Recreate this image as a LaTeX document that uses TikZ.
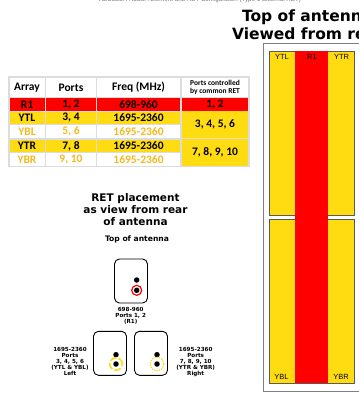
\documentclass[tikz,border=0pt]{standalone}
\usepackage{fontspec}
\setmainfont{DejaVu Sans}
\newfontfamily\cellfont{Carlito}
\newfontfamily\labelfont{Liberation Sans}
\definecolor{retyellow}{HTML}{FFDB12}
\definecolor{textyellow}{HTML}{F5B91E}
\definecolor{retred}{HTML}{FF0000}
\definecolor{cellgray}{HTML}{DCDCDC}
\tikzset{
  cellbox/.style={fill=#1, inner sep=0pt, font=\cellfont\bfseries\fontsize{11.5}{12}\selectfont},
  colarray/.style={minimum width=35pt},
  colports/.style={minimum width=50pt},
  colfreq/.style={minimum width=83pt},
  colret/.style={minimum width=66pt},
  shortrow/.style={minimum height=12.6pt},
  titletext/.style={anchor=west, font=\bfseries\fontsize{15.5}{17}\selectfont},
  headtext/.style={align=center, font=\bfseries\fontsize{10.5}{12}\selectfont},
  smalltext/.style={align=center, font=\bfseries\fontsize{5.6}{6}\selectfont},
  retbox/.style={draw=black, line width=0.9pt, rounded corners=5pt, minimum width=33pt, minimum height=44pt},
  retdot/.style={circle, fill=black, inner sep=0pt, minimum size=5.5pt},
  panelbox/.style={draw=black!65, line width=0.8pt, fill=retyellow, inner sep=0pt, minimum width=85pt},
  paneltext/.style={font=\labelfont\fontsize{7.5}{8}\selectfont}
}
\begin{document}
\begin{tikzpicture}[x=1pt, y=-1pt]
\useasboundingbox (0,0) rectangle (359,394);

% caption cut by the top edge
\node[text=black!55, font=\labelfont\fontsize{6.2}{7}\selectfont] (caption) at (200,-0.5) {ADS8S8A-R8B8A Element and RET Configuration (Type 1 External RET)};

% Table
\node[fill=cellgray, minimum width=242pt, minimum height=91.5pt, inner sep=0pt] (tbl_back) at (128.5,121.5) {};

\node[cellbox=white, colarray, minimum height=19.5pt] (hd_array) at (27,87.5) {Array};
\node[cellbox=white, colports, minimum height=19.5pt] (hd_ports) at (71,87.5) {Ports};
\node[cellbox=white, colfreq, minimum height=19.5pt] (hd_freq) at (138.5,87.5) {Freq (MHz)};
\node[cellbox=white, colret, minimum height=19.5pt, align=center, font=\cellfont\bfseries\fontsize{7.5}{8}\selectfont] (hd_ret) at (215,87.5) {Ports controlled\\by common RET};

\node[cellbox=retred, colarray, shortrow] (r1_array) at (27,104.7) {R1};
\node[cellbox=retred, colports, shortrow] (r1_ports) at (71,104.7) {1, 2};
\node[cellbox=retred, colfreq, shortrow] (r1_freq) at (138.5,104.7) {698-960};
\node[cellbox=retred, colret, shortrow] (r1_ret) at (215,104.7) {1, 2};

\node[cellbox=retyellow, colarray, shortrow] (ytl_array) at (27,118) {YTL};
\node[cellbox=retyellow, colports, shortrow] (ytl_ports) at (71,118) {3, 4};
\node[cellbox=retyellow, colfreq, shortrow] (ytl_freq) at (138.5,118) {1695-2360};

\node[cellbox=white, text=textyellow, colarray, shortrow] (ybl_array) at (27,131.5) {YBL};
\node[cellbox=white, text=textyellow, colports, shortrow] (ybl_ports) at (71,131.5) {5, 6};
\node[cellbox=white, text=textyellow, colfreq, shortrow] (ybl_freq) at (138.5,131.5) {1695-2360};

\node[cellbox=retyellow, colret, minimum height=26.5pt] (left_ret) at (215,124.7) {3, 4, 5, 6};

\node[cellbox=retyellow, colarray, shortrow] (ytr_array) at (27,146) {YTR};
\node[cellbox=retyellow, colports, shortrow] (ytr_ports) at (71,146) {7, 8};
\node[cellbox=retyellow, colfreq, shortrow] (ytr_freq) at (138.5,146) {1695-2360};

\node[cellbox=white, text=textyellow, colarray, shortrow] (ybr_array) at (27,159.3) {YBR};
\node[cellbox=white, text=textyellow, colports, shortrow] (ybr_ports) at (71,159.3) {9, 10};
\node[cellbox=white, text=textyellow, colfreq, shortrow] (ybr_freq) at (138.5,159.3) {1695-2360};

\node[cellbox=retyellow, colret, minimum height=26.5pt] (right_ret) at (215,152.7) {7, 8, 9, 10};

% RET placement
\node[headtext] (ret_title) at (135.5,209.5) {RET placement\\as view from rear\\of antenna};
\node[smalltext, font=\bfseries\fontsize{7.6}{8}\selectfont] (ret_top) at (137,239) {Top of antenna};

\node[retbox] (box_r1) at (131,281) {};
\node[retdot] (r1_upper) at (136.7,280) {};
\node[retdot] (r1_lower) at (136.7,290.3) {};
\node[circle, draw=retred, line width=1.2pt, minimum size=10pt, inner sep=0pt] (r1_ring) at (r1_lower) {};
\node[smalltext] (r1_text) at (130.7,315.7) {698-960\\Ports 1, 2\\(R1)};

\node[retbox] (box_left) at (110,353.3) {};
\node[retdot] (left_upper) at (116,354.7) {};
\node[retdot] (left_lower) at (116,364) {};
\node[circle, draw=retyellow, line width=1.6pt, dash pattern=on 7pt off 2.2pt, minimum size=12.5pt, inner sep=0pt] (left_ring) at (left_lower) {};
\node[smalltext] (left_text) at (70,361.7) {1695-2360\\Ports\\3, 4, 5, 6\\(YTL \& YBL)\\Left};

\node[retbox] (box_right) at (151,353.3) {};
\node[retdot] (right_upper) at (157,354.7) {};
\node[retdot] (right_lower) at (157,364) {};
\node[circle, draw=retyellow, line width=1.2pt, dash pattern=on 1.2pt off 1.2pt, minimum size=13.5pt, inner sep=0pt] (right_ring) at (right_lower) {};
\node[smalltext] (right_text) at (195.7,362) {1695-2360\\Ports\\7, 8, 9, 10\\(YTR \& YBR)\\Right};

% Top of antenna (Right)
\node[titletext] (title_top) at (238.5,17) {Top of antenna};
\node[titletext] (title_rear) at (228.5,34) {Viewed from rear};

\node[draw=black!50, line width=0.8pt, minimum width=110pt, minimum height=348pt, inner sep=0pt, anchor=north west] (frame) at (262.5,43) {};
\node[panelbox, minimum height=164pt, anchor=north west] (panel_top) at (268.5,50.5) {};
\node[panelbox, minimum height=163.5pt, anchor=north west] (panel_low) at (268.5,219.3) {};
\node[fill=retred, minimum width=33pt, minimum height=332pt, inner sep=0pt, anchor=north west] (red_strip) at (295,50.5) {};

\node[paneltext] (lbl_ytl) at (282,56.5) {YTL};
\node[paneltext] (lbl_r1) at (312,56.5) {R1};
\node[paneltext] (lbl_ytr) at (341.5,56.5) {YTR};
\node[paneltext] (lbl_ybl) at (281.5,377) {YBL};
\node[paneltext] (lbl_ybr) at (341,377) {YBR};

\end{tikzpicture}
\end{document}
